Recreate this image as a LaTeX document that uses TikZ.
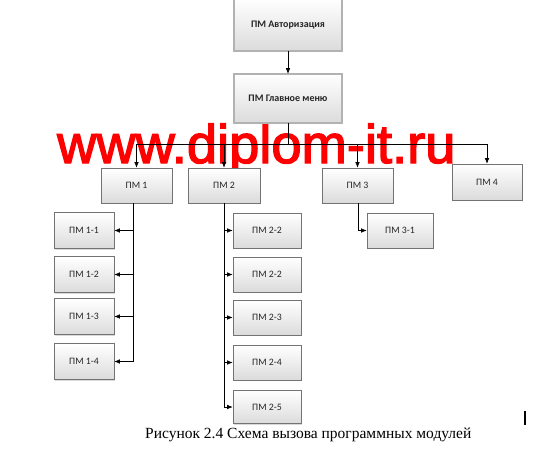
\documentclass[tikz,border=0pt]{standalone}
\usepackage{fontspec}
\setmainfont{Liberation Serif}
\newfontfamily\carlito{Carlito}
\newfontfamily\wmfont[FakeBold=2.5]{Liberation Sans}
\usetikzlibrary{arrows.meta,shadows,calc}
\begin{document}
\begin{tikzpicture}[x=1pt,y=-1pt,
  box/.style={draw=black!55, line width=0.6pt, top color=white, bottom color=black!14,
    drop shadow={shadow xshift=1.2pt, shadow yshift=-1.2pt, fill=black!25, opacity=0.6},
    text=black!85, font=\carlito\fontsize{9.8}{11}\selectfont, inner sep=0pt},
  topbox/.style={box, draw=black!80, double=black!30, double distance=1.6pt, line width=0.5pt,
    font=\carlito\bfseries\fontsize{10}{11}\selectfont},
  conn/.style={draw=black, line width=0.6pt},
  arr/.style={conn, -{Latex[length=5.5pt,width=4.5pt]}}]
\useasboundingbox (0,0) rectangle (546,460);
% watermark
\node[anchor=base west, inner sep=0pt, text=red, font=\wmfont\fontsize{54.3}{60}\selectfont] (wm) at (57,163) {www.diplom-it.ru};
% nodes
\node[topbox, minimum width=108pt, minimum height=52pt] (auth) at (288,25) {ПМ Авторизация};
\node[topbox, minimum width=108pt, minimum height=49pt] (menu) at (288,98.5) {ПМ Главное меню};
\node[box, minimum width=71pt, minimum height=35pt] (pm1) at (136.5,185.5) {ПМ 1};
\node[box, minimum width=72pt, minimum height=35pt] (pm2) at (224,185.5) {ПМ 2};
\node[box, minimum width=71pt, minimum height=35pt] (pm3) at (357.5,185.5) {ПМ 3};
\node[box, minimum width=70pt, minimum height=36pt] (pm4) at (487,182) {ПМ 4};
\node[box, minimum width=60pt, minimum height=36pt] (pm11) at (84,230.5) {ПМ 1-1};
\node[box, minimum width=60pt, minimum height=36pt] (pm12) at (84,274.5) {ПМ 1-2};
\node[box, minimum width=60pt, minimum height=36pt] (pm13) at (84,316.5) {ПМ 1-3};
\node[box, minimum width=60pt, minimum height=36pt] (pm14) at (84,361.5) {ПМ 1-4};
\node[box, minimum width=68pt, minimum height=35pt] (pm21) at (267,230.5) {ПМ 2-2};
\node[box, minimum width=68pt, minimum height=35pt] (pm22) at (267,274.5) {ПМ 2-2};
\node[box, minimum width=68pt, minimum height=35pt] (pm23) at (267,317.5) {ПМ 2-3};
\node[box, minimum width=68pt, minimum height=35pt] (pm24) at (267,362.5) {ПМ 2-4};
\node[box, minimum width=68pt, minimum height=33pt] (pm25) at (267,407) {ПМ 2-5};
\node[box, minimum width=66pt, minimum height=35pt] (pm31) at (400,230.5) {ПМ 3-1};
% connectors
\draw[arr] (auth.south) -- (menu.south |- menu.north);
\draw[conn] (menu.south) -- ++(0,21) coordinate (bus);
\draw[arr] (bus) -| (pm1.north);
\draw[arr] (bus) -| (pm2.north);
\draw[arr] (bus) -| (pm3.north);
\draw[arr] (bus) -| (pm4.north);
\foreach \n in {pm11,pm12,pm13,pm14}{
  \draw[arr] ([xshift=-3pt]pm1.south) |- (\n.east);}
\foreach \n in {pm21,pm22,pm23,pm24,pm25}{
  \draw[arr] (pm2.south) |- (\n.west);}
\draw[arr] ([xshift=0.5pt]pm3.south) |- (pm31.west);
% caption
\node[anchor=base west, inner sep=0pt, font=\fontsize{15.5}{17}\selectfont] (cap) at (145,438) {Рисунок 2.4 Схема вызова программных модулей};
\coordinate (cur1) at (525,411);
\coordinate (cur2) at (525,425);
\draw[line width=1.2pt] (cur1) -- (cur2);
\end{tikzpicture}
\end{document}
